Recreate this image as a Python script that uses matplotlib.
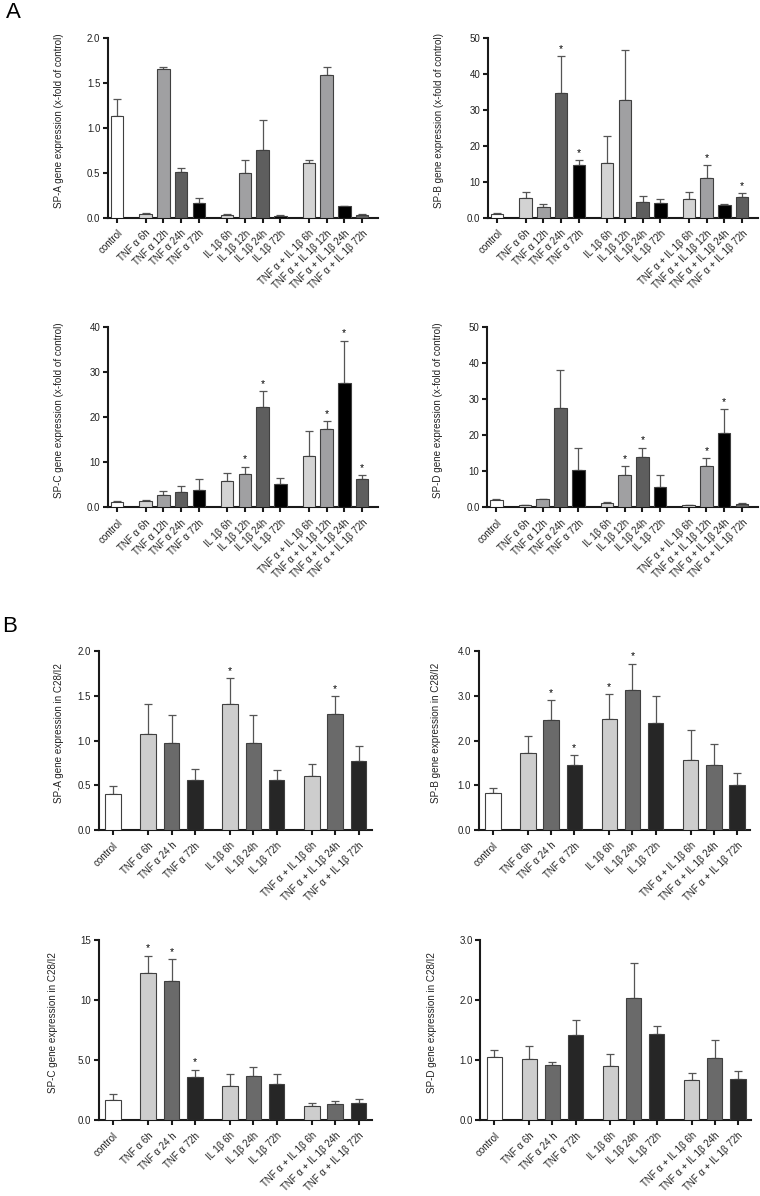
import numpy as np
import matplotlib.pyplot as plt

plt.rcParams['font.family'] = ['Liberation Sans', 'DejaVu Sans']

# categories
a_labels = ['control', 'TNF α 6h', 'TNF α 12h', 'TNF α 24h', 'TNF α 72h',
            'IL 1β 6h', 'IL 1β 12h', 'IL 1β 24h', 'IL 1β 72h',
            'TNF α + IL 1β 6h', 'TNF α + IL 1β 12h', 'TNF α + IL 1β 24h', 'TNF α + IL 1β 72h']
a_groups = [1, 4, 4, 4]
b_labels = ['control', 'TNF α 6h', 'TNF α 24 h', 'TNF α 72h',
            'IL 1β 6h', 'IL 1β 24h', 'IL 1β 72h',
            'TNF α + IL 1β 6h', 'TNF α + IL 1β 24h', 'TNF α + IL 1β 72h']
b_groups = [1, 3, 3, 3]

# A: x-fold of control (mean, sem, significant bars)
a_spa = [1.13, 0.04, 1.65, 0.51, 0.16, 0.035, 0.50, 0.75, 0.02, 0.61, 1.58, 0.125, 0.03]
a_spa_sem = [0.19, 0.01, 0.02, 0.04, 0.06, 0.005, 0.145, 0.33, 0.005, 0.035, 0.09, 0.005, 0.015]
a_spa_sig = []
a_spb = [1.1, 5.4, 3.0, 34.5, 14.6, 15.1, 32.6, 4.4, 4.1, 5.3, 11.1, 3.5, 5.7]
a_spb_sem = [0.1, 1.6, 0.7, 10.4, 1.4, 7.5, 14.1, 1.6, 1.0, 1.9, 3.4, 0.4, 1.2]
a_spb_sig = [3, 4, 10, 12]
a_spc = [1.1, 1.4, 2.75, 3.3, 3.85, 5.8, 7.4, 22.3, 5.2, 11.4, 17.4, 27.6, 6.15]
a_spc_sem = [0.2, 0.15, 0.75, 1.4, 2.3, 1.85, 1.6, 3.5, 1.3, 5.45, 1.75, 9.4, 1.05]
a_spc_sig = [6, 7, 10, 11, 12]
a_spd = [1.85, 0.45, 2.2, 27.4, 10.35, 1.1, 8.95, 14.05, 5.55, 0.45, 11.45, 20.7, 0.9]
a_spd_sem = [0.35, 0.1, 0.1, 10.7, 6.1, 0.45, 2.5, 2.5, 3.25, 0.2, 2.15, 6.6, 0.2]
a_spd_sig = [6, 7, 10, 11]

# B: expression in C28/I2
b_spa = [0.40, 1.07, 0.97, 0.56, 1.41, 0.97, 0.56, 0.60, 1.30, 0.775]
b_spa_sem = [0.09, 0.34, 0.315, 0.12, 0.29, 0.31, 0.105, 0.14, 0.20, 0.165]
b_spa_sig = [4, 8]
b_spb = [0.83, 1.71, 2.46, 1.46, 2.49, 3.12, 2.40, 1.565, 1.46, 1.01]
b_spb_sem = [0.12, 0.38, 0.45, 0.22, 0.55, 0.60, 0.59, 0.665, 0.47, 0.26]
b_spb_sig = [2, 3, 4, 5]
b_spc = [1.64, 12.25, 11.58, 3.62, 2.87, 3.65, 2.98, 1.17, 1.34, 1.45]
b_spc_sem = [0.5, 1.45, 1.82, 0.58, 0.97, 0.8, 0.83, 0.25, 0.25, 0.33]
b_spc_sig = [1, 2, 3]
b_spd = [1.05, 1.01, 0.91, 1.42, 0.90, 2.03, 1.44, 0.66, 1.04, 0.69]
b_spd_sem = [0.12, 0.22, 0.05, 0.24, 0.20, 0.58, 0.12, 0.13, 0.30, 0.13]
b_spd_sig = []

# y ticks
a_spa_ticks = [0, 0.5, 1.0, 1.5, 2.0]
a_spa_ticklabels = ['0.0', '0.5', '1.0', '1.5', '2.0']
a_50_ticks = [0, 10, 20, 30, 40, 50]
a_50_ticklabels = ['0.0', '10', '20', '30', '40', '50']
a_40_ticks = [0, 10, 20, 30, 40]
a_40_ticklabels = ['0.0', '10', '20', '30', '40']
b_spa_ticks = [0, 0.5, 1.0, 1.5, 2.0]
b_spa_ticklabels = ['0.0', '0.5', '1.0', '1.5', '2.0']
b_spb_ticks = [0, 1, 2, 3, 4]
b_spb_ticklabels = ['0.0', '1.0', '2.0', '3.0', '4.0']
b_spc_ticks = [0, 5, 10, 15]
b_spc_ticklabels = ['0.0', '5.0', '10', '15']
b_spd_ticks = [0, 1, 2, 3]
b_spd_ticklabels = ['0.0', '1.0', '2.0', '3.0']

W, L, M, D, K = 'white', '#d3d3d3', '#a0a0a2', '#5e5e5e', '#000000'
a_colors = [W, L, M, D, K, L, M, D, K, L, M, K, D]
bL, bD, bK = '#cdcdcd', '#6a6a6a', '#262626'
b_colors = [W, bL, bD, bK, bL, bD, bK, bL, bD, bK]


def group_positions(groups, gap):
    pos, x = [], 0.0
    for g in groups:
        for i in range(g):
            pos.append(x)
            x += 1
        x += gap - 1
    return np.array(pos)


def panel(rect, pos, vals, sem, sig, colors, labels, ticks, ticklabels,
          ylabel, xlim, width, labx):
    ax = fig.add_axes(rect)
    ax.bar(pos, vals, width, color=colors, edgecolor='#404040', linewidth=0.8, zorder=3)
    for p, v, s in zip(pos, vals, sem):
        ax.errorbar(p, v, yerr=[[0], [s]], fmt='none', ecolor='#555555',
                    elinewidth=0.9, capsize=2.7, capthick=0.9, zorder=2)
    for i in sig:
        ax.annotate('*', (pos[i], vals[i] + sem[i]), xytext=(0, 1.5),
                    textcoords='offset points', ha='center', va='bottom', fontsize=7.5)
    ax.set_xlim(*xlim)
    ax.set_ylim(0, ticks[-1])
    ax.set_yticks(ticks)
    ax.set_yticklabels(ticklabels, fontsize=7, color='#222222')
    ax.set_xticks(pos)
    ax.set_xticklabels(labels, rotation=45, ha='right', va='top',
                       rotation_mode='anchor', fontsize=7, color='#222222')
    for s in ['top', 'right']:
        ax.spines[s].set_visible(False)
    for s in ['left', 'bottom']:
        ax.spines[s].set_linewidth(1.5)
        ax.spines[s].set_color('#1a1a1a')
    ax.tick_params(axis='both', width=1.5, length=3.5, color='#1a1a1a', pad=2)
    ax.tick_params(axis='x', pad=4)
    ax.set_ylabel(ylabel, fontsize=7.1, color='#222222')
    ax.yaxis.set_label_coords(labx, 0.54)
    return ax


fig = plt.figure(figsize=(7.6, 11.96), dpi=100)

xa = group_positions(a_groups, 1.6)
xb = group_positions(b_groups, 1.5)
xlim_a = (-0.52, xa[-1] + 0.88)
xlim_b = (-0.61, xb[-1] + 0.56)

panel([0.142, 0.818, 0.355, 0.1505], xa, a_spa, a_spa_sem, a_spa_sig, a_colors, a_labels,
      a_spa_ticks, a_spa_ticklabels, 'SP-A gene expression (x-fold of control)', xlim_a, 0.7, -0.163)
panel([0.642, 0.818, 0.355, 0.1505], xa, a_spb, a_spb_sem, a_spb_sig, a_colors, a_labels,
      a_50_ticks, a_50_ticklabels, 'SP-B gene expression (x-fold of control)', xlim_a, 0.7, -0.163)
panel([0.142, 0.576, 0.355, 0.1505], xa, a_spc, a_spc_sem, a_spc_sig, a_colors, a_labels,
      a_40_ticks, a_40_ticklabels, 'SP-C gene expression (x-fold of control)', xlim_a, 0.7, -0.163)
panel([0.641, 0.576, 0.356, 0.1505], xa, a_spd, a_spd_sem, a_spd_sig, a_colors, a_labels,
      a_50_ticks, a_50_ticklabels, 'SP-D gene expression (x-fold of control)', xlim_a, 0.7, -0.163)

panel([0.130, 0.306, 0.359, 0.1497], xb, b_spa, b_spa_sem, b_spa_sig, b_colors, b_labels,
      b_spa_ticks, b_spa_ticklabels, 'SP-A gene expression in C28/I2', xlim_b, 0.66, -0.128)
panel([0.630, 0.306, 0.357, 0.1497], xb, b_spb, b_spb_sem, b_spb_sig, b_colors, b_labels,
      b_spb_ticks, b_spb_ticklabels, 'SP-B gene expression in C28/I2', xlim_b, 0.66, -0.14)
panel([0.130, 0.0635, 0.359, 0.1505], xb, b_spc, b_spc_sem, b_spc_sig, b_colors, b_labels,
      b_spc_ticks, b_spc_ticklabels, 'SP-C gene expression in C28/I2', xlim_b, 0.66, -0.151)
panel([0.632, 0.0635, 0.356, 0.1505], xb, b_spd, b_spd_sem, b_spd_sig, b_colors, b_labels,
      b_spd_ticks, b_spd_ticklabels, 'SP-D gene expression in C28/I2', xlim_b, 0.66, -0.159)

fig.text(0.008, 1 - 18 / 1196, 'A', fontsize=16, va='baseline')
fig.text(0.003, 1 - 632 / 1196, 'B', fontsize=16, va='baseline')

fig.savefig('out.png', dpi=100, facecolor='white')
